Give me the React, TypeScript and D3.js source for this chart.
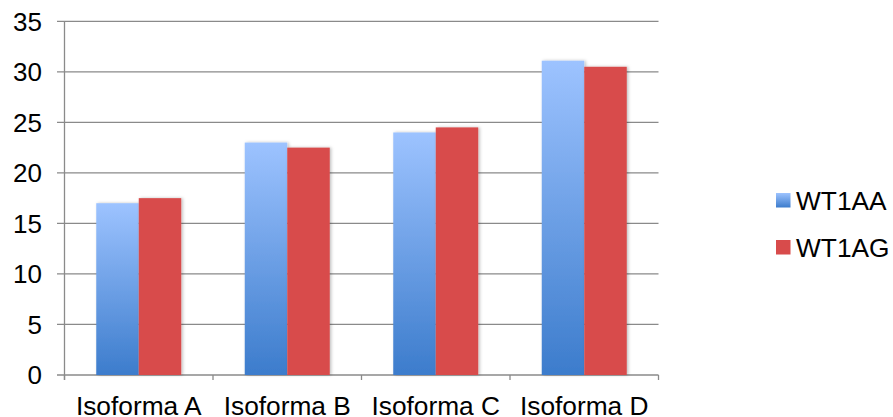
import React from "react";
import * as d3 from "d3";

const categories = ["Isoforma A", "Isoforma B", "Isoforma C", "Isoforma D"];
const series = ["WT1AA", "WT1AG"];
const wt1aa = [17, 23, 24, 31.1];
const wt1ag = [17.5, 22.5, 24.5, 30.5];
const yTicks = [0, 5, 10, 15, 20, 25, 30, 35];

const W = 893;
const H = 417;
const left = 64.5;
const right = 658.5;
const top = 21.3;
const bottom = 375;
const font = "Arial, 'Liberation Sans', Helvetica, sans-serif";

export default function App() {
  const x0 = d3.scaleBand<string>().domain(categories).range([left, right]).padding(0);
  const x1 = d3
    .scaleBand<string>()
    .domain(series)
    .range([0, x0.bandwidth()])
    .paddingInner(0)
    .paddingOuter(0.747);
  const y = d3.scaleLinear().domain([0, 35]).range([bottom, top]);
  const values = [wt1aa, wt1ag];
  const fills = ["url(#blueGrad)", "#d84b4b"];

  return (
    <svg
      width={W}
      height={H}
      style={{ position: "absolute", left: 0, top: 0, fontFamily: font }}
    >
      <defs>
        <linearGradient id="blueGrad" x1="0" y1="0" x2="0" y2="1">
          <stop offset="0%" stopColor="#9dc3ff" />
          <stop offset="100%" stopColor="#3c7ccc" />
        </linearGradient>
        <linearGradient id="blueGradLeg" x1="0" y1="0" x2="0" y2="1">
          <stop offset="0%" stopColor="#9dc3ff" />
          <stop offset="100%" stopColor="#3c7ccc" />
        </linearGradient>
        <filter id="shadow" x="-20%" y="-5%" width="150%" height="115%">
          <feDropShadow dx="1.5" dy="0" stdDeviation="1.5" floodColor="#000" floodOpacity="0.25" />
        </filter>
      </defs>
      {yTicks.map((t) => (
        <g key={t}>
          <line x1={57} x2={right} y1={y(t)} y2={y(t)} stroke="#8a8a8a" strokeWidth={1.3} />
          <text x={42} y={y(t)} dy="0.36em" textAnchor="end" fontSize={26} fill="#000">
            {t}
          </text>
        </g>
      ))}
      <line x1={left} x2={left} y1={top} y2={bottom + 5} stroke="#8a8a8a" strokeWidth={1.3} />
      {[...categories.map((c) => x0(c)!), right].map((xx, i) => (
        <line key={i} x1={xx} x2={xx} y1={bottom} y2={bottom + 5} stroke="#8a8a8a" strokeWidth={1.3} />
      ))}
      {categories.map((c, ci) =>
        series.map((s, si) => {
          const v = values[si][ci];
          const bx = x0(c)! + x1(s)!;
          return (
            <rect
              key={c + s}
              x={bx}
              y={y(v)}
              width={x1.bandwidth()}
              height={bottom - y(v)}
              fill={fills[si]}
              filter="url(#shadow)"
            />
          );
        })
      )}
      {categories.map((c) => (
        <text
          key={c}
          x={x0(c)! + x0.bandwidth() / 2}
          y={414.5}
          textAnchor="middle"
          fontSize={26.3}
          fill="#000"
        >
          {c}
        </text>
      ))}
      {series.map((s, si) => (
        <g key={s} transform={`translate(776, ${193 + si * 47})`}>
          <rect width={14.5} height={14.5} fill={si === 0 ? "url(#blueGradLeg)" : "#d84b4b"} />
          <text x={20} y={7.5} dy="0.36em" fontSize={26.3} fill="#000">
            {s}
          </text>
        </g>
      ))}
    </svg>
  );
}
